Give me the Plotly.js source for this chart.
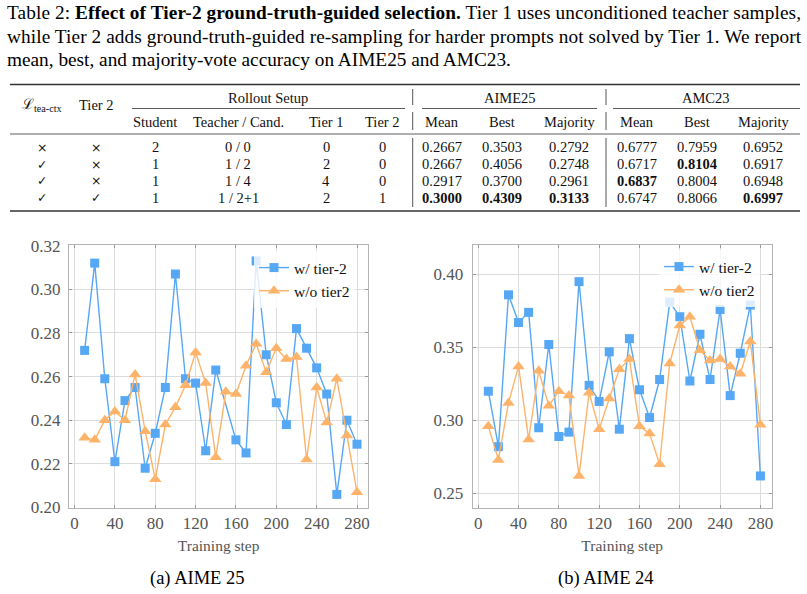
<!DOCTYPE html>
<html><head><meta charset="utf-8">
<script src="https://cdn.plot.ly/plotly-3.0.1.min.js"></script>
<style>html,body{margin:0;padding:0;background:#fff;} #chart{width:807px;height:594px;}</style>
</head><body><div id="chart"></div>
<script>
// ---------------- data ----------------
const captionLines = [
  'Table 2: <b>Effect of Tier-2 ground-truth-guided selection.</b> Tier 1 uses unconditioned teacher samples,',
  'while Tier 2 adds ground-truth-guided re-sampling for harder prompts not solved by Tier 1. We report',
  'mean, best, and majority-vote accuracy on AIME25 and AMC23.'
];
const groupHeaders = ['Rollout Setup', 'AIME25', 'AMC23'];
const colHeaders = ['ℒ<sub>tea-ctx</sub>', 'Tier 2', 'Student', 'Teacher / Cand.', 'Tier 1', 'Tier 2',
                    'Mean', 'Best', 'Majority', 'Mean', 'Best', 'Majority'];
const colTeaCtx = ['×', '✓', '✓', '✓'];
const colTier2 = ['×', '×', '×', '✓'];
const colStudent = ['2', '1', '1', '1'];
const colTeacherCand = ['0 / 0', '1 / 2', '1 / 4', '1 / 2+1'];
const colTier1Roll = ['0', '2', '4', '2'];
const colTier2Roll = ['0', '0', '0', '1'];
const aime25Mean = ['0.2667', '0.2667', '0.2917', '0.3000'];
const aime25Best = ['0.3503', '0.4056', '0.3700', '0.4309'];
const aime25Majority = ['0.2792', '0.2748', '0.2961', '0.3133'];
const amc23Mean = ['0.6777', '0.6717', '0.6837', '0.6747'];
const amc23Best = ['0.7959', '0.8104', '0.8004', '0.8066'];
const amc23Majority = ['0.6952', '0.6917', '0.6948', '0.6997'];

const steps = [10,20,30,40,50,60,70,80,90,100,110,120,130,140,150,160,170,180,190,200,210,220,230,240,250,260,270,280];
const stepsAime25Tier2 = [10,20,30,40,50,60,70,80,90,100,110,120,130,140,160,170,180,190,200,210,220,230,240,250,260,270,280];
const aime25Tier2 = [0.272,0.312,0.259,0.221,0.249,0.255,0.218,0.234,0.255,0.307,0.259,0.257,0.226,0.263,
                     0.231,0.225,0.313,0.270,0.248,0.238,0.282,0.273,0.264,0.252,0.206,0.240,0.229];
const aime25NoTier2 = [0.232,0.231,0.240,0.244,0.240,0.261,0.235,0.213,0.238,0.246,0.256,0.271,0.257,0.223,
                       0.253,0.252,0.265,0.275,0.262,0.273,0.268,0.269,0.222,0.255,0.239,0.259,0.233,0.207];
const aime24Tier2 = [0.320,0.282,0.386,0.367,0.374,0.295,0.352,0.289,0.292,0.395,0.324,0.313,0.347,0.294,
                     0.356,0.321,0.302,0.328,0.381,0.371,0.327,0.359,0.328,0.376,0.317,0.346,0.379,0.262];
const aime24NoTier2 = [0.296,0.273,0.312,0.337,0.287,0.334,0.310,0.320,0.317,0.262,0.319,0.294,0.315,0.335,
                       0.342,0.296,0.291,0.270,0.339,0.365,0.371,0.348,0.341,0.342,0.337,0.332,0.354,0.297];
const seriesNames = ['w/ tier-2', 'w/o tier2'];
const subCaptions = ['(a) AIME 25', '(b) AIME 24'];
const axisTitle = 'Training step';

// ---------------- styling / layout ----------------
const W = 807, H = 594;
const X = px => px / W;
const Y = py => 1 - py / H;
const SERIF = '"Liberation Serif", "Times New Roman", serif';
const BLUE = '#56a7f4', ORANGE = '#fdb36a';

function lineTrace(x, y, name, color, symbol, size, xa, ya, legend) {
  return {
    type: 'scatter', mode: 'lines+markers', x: x, y: y, name: name,
    xaxis: xa, yaxis: ya, legend: legend, showlegend: true,
    line: {color: color, width: 1.4},
    marker: {color: color, symbol: symbol, size: size, line: {width: 0}},
    cliponaxis: false
  };
}
const traces = [
  lineTrace(stepsAime25Tier2, aime25Tier2, seriesNames[0], BLUE, 'square', 9, 'x', 'y', 'legend'),
  lineTrace(steps, aime25NoTier2, seriesNames[1], ORANGE, 'triangle-up', 11, 'x', 'y', 'legend'),
  lineTrace(steps, aime24Tier2, seriesNames[0], BLUE, 'square', 9, 'x2', 'y2', 'legend2'),
  lineTrace(steps, aime24NoTier2, seriesNames[1], ORANGE, 'triangle-up', 11, 'x2', 'y2', 'legend2')
];

const tickFont = {family: SERIF, size: 17, color: '#555555'};
function xAxis(domain, anchor) {
  return {domain: domain, anchor: anchor, range: [-5.5, 291.2], tick0: 0, dtick: 40,
    showgrid: true, gridcolor: '#dcdcdc', gridwidth: 1, zeroline: false,
    showline: true, linecolor: '#b4b4b4', linewidth: 1, mirror: 'allticks',
    ticks: 'inside', ticklen: 3, tickcolor: '#9a9a9a', tickfont: tickFont,
    title: {text: axisTitle, font: {family: SERIF, size: 15.5, color: '#555555'}, standoff: 8},
    automargin: false};
}
function yAxis(domain, anchor, range, dtick, standoff) {
  return {domain: domain, anchor: anchor, range: range, dtick: dtick, tick0: 0, tickformat: '.2f',
    showgrid: true, gridcolor: '#dcdcdc', gridwidth: 1, zeroline: false,
    showline: true, linecolor: '#b4b4b4', linewidth: 1, mirror: 'allticks',
    ticks: 'inside', ticklen: 3, tickcolor: '#9a9a9a', tickfont: tickFont,
    ticklabelstandoff: standoff, automargin: false};
}
const yDom = [Y(507.5), Y(245)];

// ---------------- caption + table as annotations + shapes ----------------
const annotations = [];
const shapes = [];
captionLines.forEach((t, i) => annotations.push({
  xref: 'paper', yref: 'paper', x: X(5), y: Y(13 + i * 23.3), xanchor: 'left', yanchor: 'middle', align: 'left',
  text: t, showarrow: false, font: {family: SERIF, size: 19.3, color: '#000'}
}));
function cell(xpx, ypx, text, font) {
  annotations.push({xref: 'paper', yref: 'paper', x: X(xpx), y: Y(ypx), xanchor: 'center', yanchor: 'middle',
    text: text, showarrow: false, font: font});
}
const colX = [42, 96, 155, 238, 326, 382, 442, 502, 569, 637, 697, 763];
const tblFont = {family: SERIF, size: 14.5, color: '#111'};
const groupX = [268, 509.5, 706];
groupHeaders.forEach((t, i) => cell(groupX[i], 98, t, tblFont));
colHeaders.forEach((t, i) => cell(colX[i], i < 2 ? 105.5 : 122, t, tblFont));
const tableCols = [colTeaCtx, colTier2, colStudent, colTeacherCand, colTier1Roll, colTier2Roll,
  aime25Mean, aime25Best, aime25Majority, amc23Mean, amc23Best, amc23Majority];
const rowY = [147.5, 164, 180.5, 197.5];
tableCols.forEach((col, ci) => {
  const numeric = ci >= 6;
  const best = numeric ? Math.max(...col.map(Number)) : null;
  col.forEach((v, ri) => {
    const bold = numeric && Number(v) === best;
    cell(colX[ci], rowY[ri], bold ? '<b>' + v + '</b>' : v,
      (ci < 2) ? {family: '"DejaVu Sans", sans-serif', size: 12.5, color: '#111'} : tblFont);
  });
});
function hline(x0, x1, y, w) {
  shapes.push({type: 'line', xref: 'paper', yref: 'paper', x0: X(x0), x1: X(x1), y0: Y(y), y1: Y(y),
    line: {color: '#333', width: w}});
}
function vline(x, y0, y1) {
  shapes.push({type: 'line', xref: 'paper', yref: 'paper', x0: X(x), x1: X(x), y0: Y(y0), y1: Y(y1),
    line: {color: '#555', width: 1}});
}
hline(10, 800, 84.5, 1.6);
hline(132, 405, 108.5, 0.8); hline(422, 597, 108.5, 0.8); hline(613, 800, 108.5, 0.8);
hline(10, 800, 134, 0.8);
hline(10, 800, 211, 1.6);
[412.7, 606].forEach(x => { vline(x, 89, 105); vline(x, 112, 130); vline(x, 138, 207); });

// sub captions
const subX = [197, 606];
subCaptions.forEach((t, i) => cell(subX[i], 578, t, {family: SERIF, size: 18.5, color: '#000'}));

const legendStyle = {bgcolor: 'rgba(255,255,255,0.8)', borderwidth: 0, font: {family: SERIF, size: 15.5, color: '#111'},
  xanchor: 'left', yanchor: 'top', itemwidth: 30, tracegroupgap: 0};

const layout = {
  width: W, height: H, margin: {l: 0, r: 0, t: 0, b: 0},
  paper_bgcolor: '#fff', plot_bgcolor: '#fff',
  xaxis: xAxis([X(69), X(368.3)], 'y'),
  yaxis: yAxis(yDom, 'x', [0.2, 0.3203], 0.02, 4),
  xaxis2: xAxis([X(472.7), X(771.7)], 'y2'),
  yaxis2: yAxis(yDom, 'x2', [0.2404, 0.4201], 0.05, 5),
  legend: Object.assign({x: X(254), y: Y(251)}, legendStyle),
  legend2: Object.assign({x: X(659), y: Y(250)}, legendStyle),
  annotations: annotations, shapes: shapes
};

Plotly.newPlot('chart', traces, layout, {displayModeBar: false, staticPlot: true}).then(() => {
  // justify the first two caption lines like the typeset paragraph
  const anns = document.querySelectorAll('.annotation .annotation-text');
  [0, 1].forEach(i => {
    const el = anns[i];
    if (el) { el.setAttribute('textLength', 794); el.setAttribute('lengthAdjust', 'spacing'); }
  });
});
</script></body></html>
